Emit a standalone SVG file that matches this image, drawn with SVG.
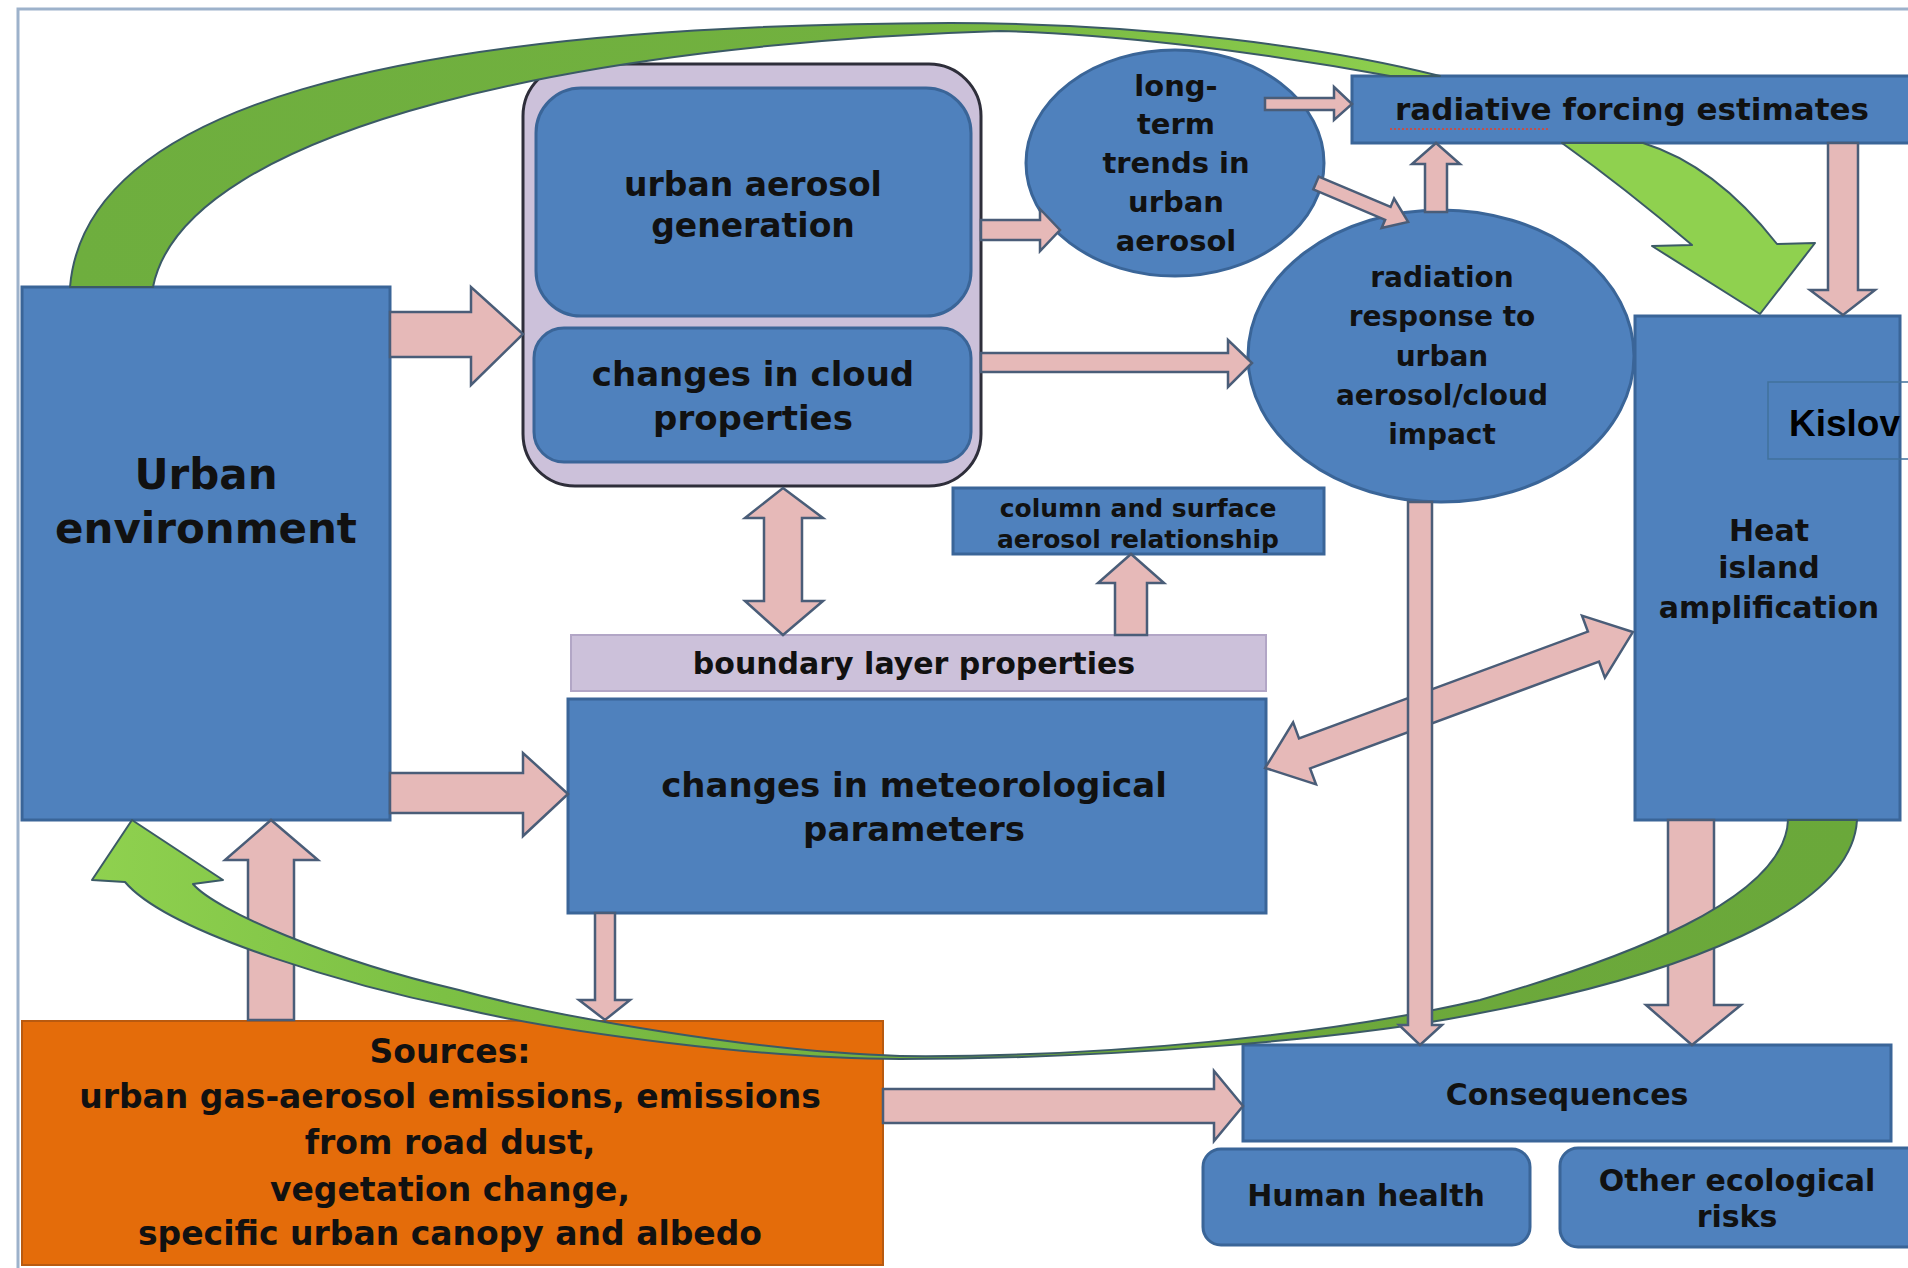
<svg xmlns="http://www.w3.org/2000/svg" width="1908" height="1268" viewBox="0 0 1908 1268">
<defs>
<style>
.box{fill:#4f81bd;stroke:#3a6598;stroke-width:3}
.lav{fill:#ccc1da}
.pk{fill:#e6b9b8;stroke:#4a5d78;stroke-width:2.5;stroke-linejoin:miter}
.gr{stroke:#3b5a66;stroke-width:2;stroke-linejoin:round}
.t{font-family:"DejaVu Sans","Liberation Sans",sans-serif;font-weight:bold;fill:#111;text-anchor:middle}
</style>
<linearGradient id="gTop" gradientUnits="userSpaceOnUse" x1="70" y1="0" x2="1440" y2="0">
<stop offset="0" stop-color="#6eae3e"/><stop offset="0.6" stop-color="#72b13f"/><stop offset="1" stop-color="#8fd14f"/>
</linearGradient>
<linearGradient id="gBot" gradientUnits="userSpaceOnUse" x1="90" y1="0" x2="1860" y2="0">
<stop offset="0" stop-color="#8fd14f"/><stop offset="0.2" stop-color="#7cc044"/><stop offset="0.6" stop-color="#6ea93c"/><stop offset="1" stop-color="#6aa83a"/>
</linearGradient>
</defs>
<rect x="0" y="0" width="1908" height="1268" fill="#ffffff"/>
<rect x="18" y="9" width="1960" height="1300" fill="none" stroke="#9db2cb" stroke-width="3"/>

<g id="urban-environment">
<rect class="box" x="22" y="287" width="368" height="533"/>
<text class="t" font-size="42"><tspan x="206" y="489">Urban</tspan><tspan x="206" y="543">environment</tspan></text>
</g>

<g id="aerosol-cloud-group">
<rect class="lav" x="523" y="64" width="458" height="422" rx="52" stroke="#2e2e3a" stroke-width="3"/>
</g>
<g id="urban-aerosol-generation">
<rect class="box" x="536" y="88" width="435" height="228" rx="45"/>
<text class="t" font-size="33"><tspan x="753" y="196">urban aerosol</tspan><tspan x="753" y="237">generation</tspan></text>
</g>
<g id="changes-in-cloud-properties">
<rect class="box" x="534" y="328" width="437" height="134" rx="30"/>
<text class="t" font-size="34"><tspan x="753" y="386">changes in cloud</tspan><tspan x="753" y="430">properties</tspan></text>
</g>

<g id="long-term-trends">
<ellipse class="box" cx="1175" cy="163" rx="149" ry="113"/>
<text class="t" font-size="29"><tspan x="1176" y="96">long-</tspan><tspan x="1176" y="134">term</tspan><tspan x="1176" y="173">trends in</tspan><tspan x="1176" y="212">urban</tspan><tspan x="1176" y="251">aerosol</tspan></text>
</g>

<g id="radiative-forcing-estimates">
<rect class="box" x="1352" y="76" width="570" height="67"/>
<text class="t" font-size="31" x="1632" y="120">radiative forcing estimates</text>
<line x1="1390" y1="129" x2="1549" y2="129" stroke="#c0504d" stroke-width="2" stroke-dasharray="2 2"/>
</g>

<g id="radiation-response">
<ellipse class="box" cx="1441" cy="356" rx="193" ry="146"/>
<text class="t" font-size="28"><tspan x="1442" y="287">radiation</tspan><tspan x="1442" y="326">response to</tspan><tspan x="1442" y="366">urban</tspan><tspan x="1442" y="405">aerosol/cloud</tspan><tspan x="1442" y="444">impact</tspan></text>
</g>

<g id="heat-island-amplification">
<rect class="box" x="1635" y="316" width="265" height="504"/>
<text class="t" font-size="30"><tspan x="1769" y="541">Heat</tspan><tspan x="1769" y="578">island</tspan><tspan x="1769" y="618">amplification</tspan></text>
</g>

<g id="kislov-label">
<rect x="1768" y="382" width="170" height="77" fill="none" stroke="#41719c" stroke-width="1.5"/>
<text x="1789" y="436" font-family="Liberation Sans, Arial, sans-serif" font-weight="bold" font-size="37" fill="#000">Kislov</text>
</g>

<g id="column-surface-relationship">
<rect class="box" x="953" y="488" width="371" height="66"/>
<text class="t" font-size="25"><tspan x="1138" y="517">column and surface</tspan><tspan x="1138" y="548">aerosol relationship</tspan></text>
</g>

<g id="boundary-layer-properties">
<rect class="lav" x="571" y="635" width="695" height="56" stroke="#b2a6c6" stroke-width="2"/>
<text class="t" font-size="30" x="914" y="674">boundary layer properties</text>
</g>

<g id="meteorological-parameters">
<rect class="box" x="568" y="699" width="698" height="214"/>
<text class="t" font-size="34"><tspan x="914" y="797">changes in meteorological</tspan><tspan x="914" y="841">parameters</tspan></text>
</g>

<g id="sources">
<rect x="22" y="1021" width="861" height="244" fill="#e46c0a" stroke="#b85a10" stroke-width="2"/>
<text class="t" font-size="33"><tspan x="450" y="1063">Sources:</tspan><tspan x="450" y="1108">urban gas-aerosol emissions, emissions</tspan><tspan x="450" y="1154">from road dust,</tspan><tspan x="450" y="1201">vegetation change,</tspan><tspan x="450" y="1245">specific urban canopy and albedo</tspan></text>
</g>

<g id="consequences">
<rect class="box" x="1243" y="1045" width="648" height="96"/>
<text class="t" font-size="30" x="1567" y="1105">Consequences</text>
</g>

<g id="human-health">
<rect class="box" x="1203" y="1149" width="327" height="96" rx="18"/>
<text class="t" font-size="30" x="1366" y="1206">Human health</text>
</g>

<g id="other-ecological-risks">
<rect class="box" x="1560" y="1148" width="380" height="99" rx="18"/>
<text class="t" font-size="30"><tspan x="1737" y="1191">Other ecological</tspan><tspan x="1737" y="1227">risks</tspan></text>
</g>

<g id="connectors">
<path class="gr" fill="url(#gTop)" d="M70,287 C85,110 380,25 950,23 C1150,23 1330,48 1440,76 L1390,76 C1250,50 1100,33 1000,31 C600,43 185,125 153,287 Z"/>
<path class="gr" fill="#8fd14f" d="M1562,143 Q1625,188 1692,245 L1652,246 L1760,314 L1815,243 L1777,244 Q1715,165 1643,143 Z"/>

<polygon class="pk" points="390,312 471,312 471,287 523,334 471,385 471,357 390,357"/>
<polygon class="pk" points="390,773 523,773 523,753 568,794 523,836 523,813 390,813"/>
<polygon class="pk" points="248,1020 248,860 225,860 271,820 318,860 294,860 294,1020"/>
<polygon class="pk" points="595,913 615,913 615,1000 630,1000 605,1020 579,1000 595,1000"/>
<polygon class="pk" points="783,488 823,518 802,518 802,601 823,601 783,635 745,601 764,601 764,518 745,518"/>
<polygon class="pk" points="1115,635 1115,583 1098,583 1131,554 1164,583 1147,583 1147,635"/>
<polygon class="pk" points="981,220 1040,220 1040,209 1060,230 1040,251 1040,240 981,240"/>
<polygon class="pk" points="981,353 1228,353 1228,340 1252,363 1228,387 1228,372 981,372"/>
<polygon class="pk" points="1265,98 1334,98 1334,87 1352,104 1334,120 1334,110 1265,110"/>
<polygon class="pk" transform="translate(1316,183) rotate(22.9)" points="0,-7 78,-7 78,-16 100,0 78,16 78,7 0,7"/>
<polygon class="pk" points="1425,212 1425,164 1412,164 1436,143 1460,164 1447,164 1447,212"/>
<polygon class="pk" points="1828,143 1858,143 1858,290 1875,290 1843,315 1810,290 1828,290"/>
<polygon class="pk" points="1668,820 1714,820 1714,1005 1741,1005 1692,1045 1646,1005 1668,1005"/>
<polygon class="pk" transform="translate(1449,700) rotate(-20.28)" points="-196,0 -154,-33 -154,-16 154,-16 154,-33 196,0 154,33 154,16 -154,16 -154,33"/>
<polygon class="pk" points="883,1089 1214,1089 1214,1071 1243,1106 1214,1141 1214,1123 883,1123"/>

<path class="gr" fill="url(#gBot)" d="M132,820 L223,880 L193,884 C215,910 330,960 459,990 C560,1018 760,1052 900,1056 C1100,1058 1330,1035 1480,1000 C1620,960 1785,900 1788,820 L1857,820 C1852,910 1680,975 1480,1013 C1350,1040 1100,1059 900,1059 C760,1059 560,1032 459,1008 C360,988 170,935 125,882 L92,880 Z"/>
<polygon class="pk" points="1408,502 1432,502 1432,1025 1442,1025 1420,1045 1399,1025 1408,1025"/>
</g>
</svg>
